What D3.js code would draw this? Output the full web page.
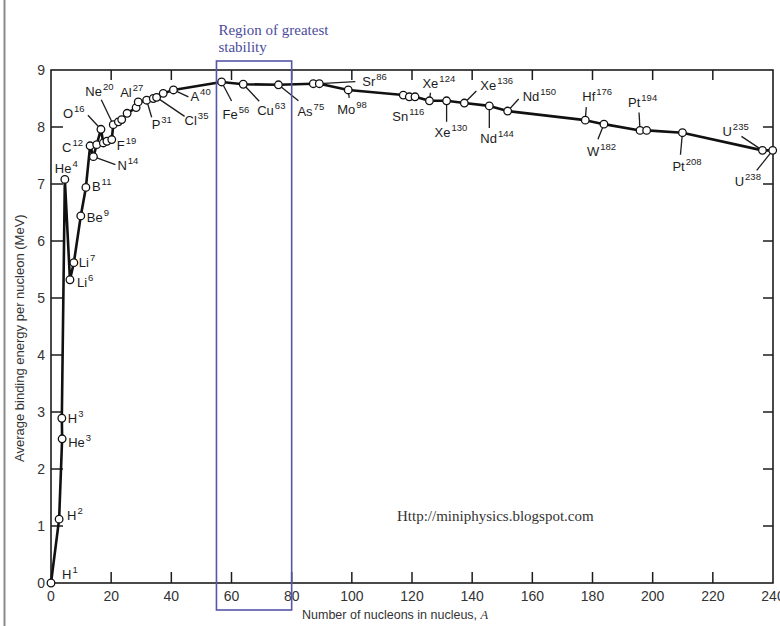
<!DOCTYPE html>
<html>
<head>
<meta charset="utf-8">
<script src="https://cdn.jsdelivr.net/npm/d3@7"></script>
<style>
  html, body { margin: 0; padding: 0; background: #fff; }
  svg { display: block; }
</style>
</head>
<body>
<svg id="chart" width="780" height="626"></svg>
<script>
'use strict';

// nucleon number A (as plotted) and binding energy per nucleon (MeV)
var nucleons = [0.0, 2.7, 3.7, 3.6, 4.6, 6.3, 7.6, 9.9, 11.6, 13.0, 14.1, 15.2, 16.6, 17.4, 18.6, 20.2,
    20.7, 22.4, 23.5, 25.3, 28.3, 29.0, 31.8, 34.0, 35.1, 37.3, 40.7, 56.7, 63.9, 75.6, 87.2, 89.2,
    98.8, 117.1, 119.1, 121.0, 125.8, 131.5, 137.4, 145.7, 151.8, 177.6, 183.8, 195.8, 198.0, 209.9,
    236.5, 239.9];
var bindingEnergy = [0.0, 1.12, 2.53, 2.89, 7.08, 5.32, 5.62, 6.44, 6.94, 7.67, 7.48, 7.69, 7.96, 7.72, 7.75, 7.78,
    8.04, 8.09, 8.13, 8.24, 8.34, 8.44, 8.47, 8.50, 8.52, 8.59, 8.65, 8.79, 8.75, 8.74, 8.76, 8.76,
    8.65, 8.56, 8.53, 8.53, 8.46, 8.46, 8.42, 8.37, 8.28, 8.12, 8.05, 7.94, 7.94, 7.90,
    7.59, 7.59];

// labelled isotopes: [symbol, mass number, index of point]
var isotopes = [
    ['H', 1, 0], ['H', 2, 1], ['He', 3, 2], ['H', 3, 3], ['He', 4, 4], ['Li', 6, 5], ['Li', 7, 6],
    ['Be', 9, 7], ['B', 11, 8], ['C', 12, 9], ['N', 14, 10], ['O', 16, 12], ['F', 19, 15],
    ['Ne', 20, 16], ['Al', 27, 20], ['P', 31, 22], ['Cl', 35, 24], ['A', 40, 26], ['Fe', 56, 27],
    ['Cu', 63, 28], ['As', 75, 29], ['Sr', 86, 31], ['Mo', 98, 32], ['Sn', 116, 34], ['Xe', 124, 36],
    ['Xe', 130, 37], ['Xe', 136, 38], ['Nd', 144, 39], ['Nd', 150, 40], ['Hf', 176, 41], ['W', 182, 42],
    ['Pt', 194, 43], ['Pt', 208, 45], ['U', 235, 46], ['U', 238, 47]
];
// label placement in px relative to the point: [dx, dy, leader dx, leader dy]
var labelOffsets = [
    [11, -4], [8, 1], [6, 8], [6, 5], [-10, -6], [7, 7], [5, 4],
    [6, 6], [6, 4], [-28, 6], [24, 13, 22, 8], [-38, -11, -13, -14], [5, 10],
    [-28, -29, -12, -25], [-16, -11, -1, -8], [5, 29, 5, 17], [28, 28, 28, 19], [17, 11, 15, 7], [1, 37, 10, 19],
    [14, 31, 16, 17], [19, 31, 20, 16], [43, 2, 36, -2], [-11, 24, 1, 8], [-17, 24], [-7, -13, 1, -8],
    [-12, 36, 0, 21], [16, -13, 12, -12], [-9, 37, 0, 22], [15, -10, 11, -12], [-3, -19, 1, -13], [-17, 32, -6, 15],
    [-12, -23, -1, -18], [-10, 38, -2, 22], [-40, -14, -21, -14], [-38, 36, -16, 20]
];

var xTicks = d3.range(0, 241, 20);
var yTicks = d3.range(0, 10, 1);
var stableRegion = [55, 80];

var svg = d3.select('#chart');
var x = d3.scaleLinear().domain([0, 240]).range([51, 773]);
var y = d3.scaleLinear().domain([0, 9]).range([583, 70]);
var ink = '#1c1c1c';
var sans = '"Liberation Sans", Arial, sans-serif';
var serif = '"Liberation Serif", "Times New Roman", serif';

// scan border on the left
svg.append('line').attr('x1', 4.5).attr('x2', 4.5).attr('y1', 0).attr('y2', 626)
    .attr('stroke', '#8a8a8a').attr('stroke-width', 2);

// frame
svg.append('rect')
    .attr('x', x(0)).attr('y', y(9))
    .attr('width', x(240) - x(0)).attr('height', y(0) - y(9))
    .attr('fill', 'none').attr('stroke', ink).attr('stroke-width', 1.6);

var inner = xTicks.filter(function (d) { return d > 0 && d < 240; });
svg.selectAll('.tb').data(inner).enter().append('line')
    .attr('x1', function (d) { return x(d); }).attr('x2', function (d) { return x(d); })
    .attr('y1', y(0)).attr('y2', y(0) - 11)
    .attr('stroke', ink).attr('stroke-width', 1.5);
svg.selectAll('.tt').data(inner).enter().append('line')
    .attr('x1', function (d) { return x(d); }).attr('x2', function (d) { return x(d); })
    .attr('y1', y(9)).attr('y2', y(9) + 10)
    .attr('stroke', ink).attr('stroke-width', 1.5);

var innerY = yTicks.filter(function (d) { return d > 0 && d < 9; });
svg.selectAll('.tl').data(innerY).enter().append('line')
    .attr('x1', x(0)).attr('x2', x(0) + 12)
    .attr('y1', function (d) { return y(d); }).attr('y2', function (d) { return y(d); })
    .attr('stroke', ink).attr('stroke-width', 1.5);
svg.selectAll('.tr').data(innerY).enter().append('line')
    .attr('x1', x(240)).attr('x2', x(240) - 10)
    .attr('y1', function (d) { return y(d); }).attr('y2', function (d) { return y(d); })
    .attr('stroke', ink).attr('stroke-width', 1.5);

// tick labels
svg.selectAll('.xl').data(xTicks).enter().append('text')
    .attr('x', function (d) { return x(d); }).attr('y', y(0) + 18)
    .attr('text-anchor', 'middle')
    .attr('font-family', sans).attr('font-size', 14).attr('fill', '#333')
    .text(function (d) { return d; });
svg.selectAll('.yl').data(yTicks).enter().append('text')
    .attr('x', 45).attr('y', function (d) { return y(d) + 5; })
    .attr('text-anchor', 'end')
    .attr('font-family', sans).attr('font-size', 14).attr('fill', '#333')
    .text(function (d) { return d; });

// axis titles
svg.append('text')
    .attr('transform', 'translate(24,462) rotate(-90)')
    .attr('font-family', sans).attr('font-size', 13).attr('fill', '#333')
    .text('Average binding energy per nucleon (MeV)');
var xt = svg.append('text')
    .attr('x', 302).attr('y', 619)
    .attr('font-family', sans).attr('font-size', 12.5).attr('fill', '#333')
    .text('Number of nucleons in nucleus, ');
xt.append('tspan').attr('font-family', serif).attr('font-style', 'italic').text('A');

var pts = nucleons.map(function (a, i) { return [x(a), y(bindingEnergy[i])]; });

// leader lines
svg.selectAll('.leader').data(isotopes).enter()
    .filter(function (d, i) { return labelOffsets[i].length > 2; })
    .append('line')
    .attr('x1', function (d) { return pts[d[2]][0]; })
    .attr('y1', function (d) { return pts[d[2]][1]; })
    .attr('x2', function (d) { var i = isotopes.indexOf(d); return pts[d[2]][0] + labelOffsets[i][2]; })
    .attr('y2', function (d) { var i = isotopes.indexOf(d); return pts[d[2]][1] + labelOffsets[i][3]; })
    .attr('stroke', ink).attr('stroke-width', 1.3);

// curve
var line = d3.line()
    .x(function (d) { return x(d[0]); })
    .y(function (d) { return y(d[1]); });
svg.append('path')
    .datum(nucleons.map(function (a, i) { return [a, bindingEnergy[i]]; }))
    .attr('d', line)
    .attr('fill', 'none').attr('stroke', '#111').attr('stroke-width', 2.6)
    .attr('stroke-linejoin', 'round');

svg.selectAll('.pt').data(pts).enter().append('circle')
    .attr('cx', function (d) { return d[0]; }).attr('cy', function (d) { return d[1]; })
    .attr('r', 3.8)
    .attr('fill', '#fff').attr('stroke', '#111').attr('stroke-width', 1.3);

// isotope labels
var lbl = svg.selectAll('.iso').data(isotopes).enter().append('text')
    .attr('x', function (d, i) { return pts[d[2]][0] + labelOffsets[i][0]; })
    .attr('y', function (d, i) { return pts[d[2]][1] + labelOffsets[i][1]; })
    .attr('font-family', sans).attr('font-size', 13).attr('fill', ink);
lbl.append('tspan').text(function (d) { return d[0]; });
lbl.append('tspan').attr('font-size', 9.5).attr('dy', -6).attr('dx', 1)
    .text(function (d) { return d[1]; });

// region of greatest stability
svg.append('rect')
    .attr('x', x(stableRegion[0])).attr('y', y(9) - 9)
    .attr('width', x(stableRegion[1]) - x(stableRegion[0]))
    .attr('height', y(0) + 27 - (y(9) - 9))
    .attr('fill', 'none').attr('stroke', '#5656a8').attr('stroke-width', 1.6);
svg.append('text')
    .attr('x', x(stableRegion[0]) + 2).attr('y', 35)
    .attr('font-family', serif).attr('font-size', 15).attr('fill', '#4c4c9c')
    .text('Region of greatest');
svg.append('text')
    .attr('x', x(stableRegion[0]) + 2).attr('y', 52)
    .attr('font-family', serif).attr('font-size', 15).attr('fill', '#4c4c9c')
    .text('stability');

svg.append('text')
    .attr('x', 397).attr('y', 521)
    .attr('font-family', serif).attr('font-size', 15).attr('fill', '#333')
    .text('Http://miniphysics.blogspot.com');
</script>
</body>
</html>
